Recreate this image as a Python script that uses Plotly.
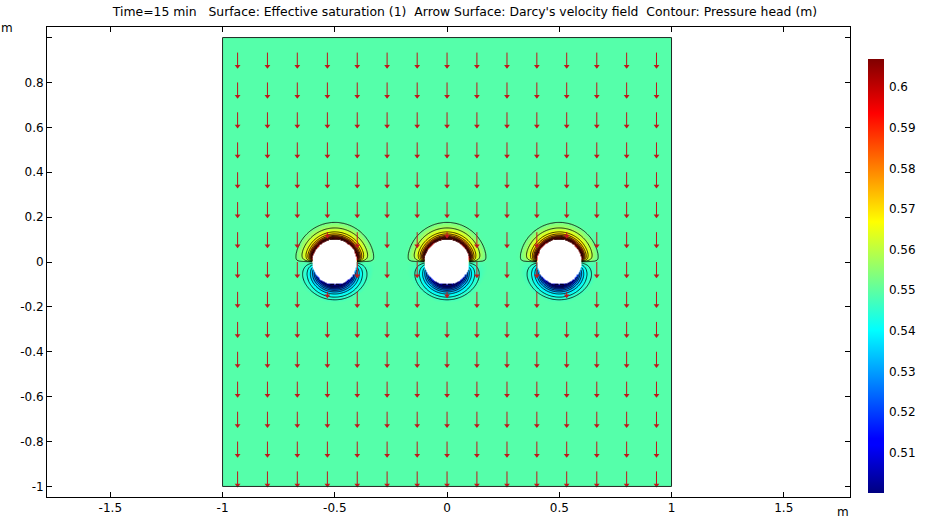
import numpy as np
import plotly.graph_objects as go

# ---------------- values ----------------
title_text = ("Time=15 min\u00a0\u00a0 Surface: Effective saturation (1)\u00a0 "
              "Arrow Surface: Darcy's velocity field\u00a0 Contour: Pressure head (m)")

domain_min, domain_max = -1.0, 1.0          # square soil domain (m)
hole_x = [-0.5, 0.0, 0.5]                    # drain pipe centres (m)
hole_y = [0.0, 0.0, 0.0]
hole_r = 0.1                                 # pipe radius (m)

base_sat = 0.549                             # far-field effective saturation

# saturation profile straight above a pipe (distance from pipe wall, m)
rho_up = [0.0, 0.005, 0.01, 0.015, 0.02, 0.03, 0.04, 0.05, 0.06, 0.07, 0.08, 0.09]
sat_up = [0.607, 0.598, 0.590, 0.582, 0.576, 0.568, 0.563, 0.559, 0.556, 0.553, 0.550, 0.549]
# saturation profile straight below a pipe
rho_dn = [0.0, 0.005, 0.01, 0.015, 0.02, 0.03, 0.04, 0.05, 0.06, 0.07, 0.08]
sat_dn = [0.500, 0.506, 0.512, 0.518, 0.523, 0.531, 0.537, 0.541, 0.544, 0.547, 0.549]

# contour lines (pressure head) expressed at the saturation they follow
contour_sat = [0.504, 0.508, 0.513, 0.518, 0.523, 0.528, 0.533, 0.538, 0.543, 0.5465,
               0.551, 0.5585, 0.566, 0.572, 0.578, 0.584, 0.589, 0.594, 0.598, 0.602]

# arrow grid (Darcy velocity, pointing down)
arrow_x = [-0.933, -0.8, -0.667, -0.533, -0.4, -0.267, -0.133, 0.0,
           0.133, 0.267, 0.4, 0.533, 0.667, 0.8, 0.933]
arrow_y = [-0.933, -0.8, -0.667, -0.533, -0.4, -0.267, -0.133, 0.0,
           0.133, 0.267, 0.4, 0.533, 0.667, 0.8, 0.933]
arrow_u, arrow_v = 0.0, -1.0

x_tickvals = [-1.5, -1, -0.5, 0, 0.5, 1, 1.5]
x_ticktext = ["-1.5", "-1", "-0.5", "0", "0.5", "1", "1.5"]
y_tickvals = [-1, -0.8, -0.6, -0.4, -0.2, 0, 0.2, 0.4, 0.6, 0.8, 1]
y_ticktext = ["-1", "-0.8", "-0.6", "-0.4", "-0.2", "0", "0.2", "0.4", "0.6", "0.8", ""]
cbar_tickvals = [0.51, 0.52, 0.53, 0.54, 0.55, 0.56, 0.57, 0.58, 0.59, 0.6]
c_min, c_max = 0.5001, 0.6069

# ---------------- styling ----------------
W, H = 930, 524
ML, MR, MT, MB = 47, 80, 27, 27
PW, PH = W - ML - MR, H - MT - MB
x_range = [-1.782, 1.795]
y_range = [-1.047, 1.047]
arrow_len = 0.067
arrow_col = "#c0161c"
jet = [[0.0, "rgb(0,0,128)"], [0.11, "rgb(0,0,255)"], [0.125, "rgb(0,0,255)"],
       [0.375, "rgb(0,255,255)"], [0.625, "rgb(255,255,0)"],
       [0.875, "rgb(255,0,0)"], [1.0, "rgb(128,0,0)"]]
font_family = "DejaVu Sans"

# ---------------- build the field near the pipes ----------------
step = 0.004
gx = np.arange(-0.72, 0.72 + step / 2, step)
gy = np.arange(-0.22, 0.22 + step / 2, step)
X, Y = np.meshgrid(gx, gy)
S = np.full(X.shape, base_sat)
inside = np.zeros(X.shape, dtype=bool)
for cx, cy in zip(hole_x, hole_y):
    dx, dy = X - cx, Y - cy
    r = np.hypot(dx, dy)
    inside |= r < hole_r
    rho = np.clip(r - hole_r, 0, None)
    s = dy / np.maximum(r, 1e-9)
    w_up = 1 - np.exp(-np.clip(s, 0, None) / 0.08)
    w_dn = np.clip(-s, 0, None)
    up = (np.interp(rho, rho_up, sat_up) - base_sat) * w_up
    dn = (np.interp(rho, rho_dn, sat_dn) - base_sat) * w_dn
    S += np.where(dy >= 0, up, dn)
S[inside] = np.nan

# full-domain cells: fine band around the pipes, one wide cell on every side
x_edges = np.concatenate([[domain_min], gx - step / 2, [gx[-1] + step / 2, domain_max]])
y_edges = np.concatenate([[domain_min], gy - step / 2, [gy[-1] + step / 2, domain_max]])
Z = np.pad(S, 1, mode="constant", constant_values=base_sat)

lev = sorted(contour_sat)
ext_lev = [c_min - 0.05] + lev + [c_max + 0.05]
ext_idx = [-1] + list(range(len(lev))) + [len(lev)]
C = np.interp(np.nan_to_num(S, nan=base_sat), ext_lev, ext_idx)
C[inside] = np.nan

fig = go.Figure()
fig.add_trace(go.Heatmap(x=x_edges, y=y_edges, z=np.round(Z, 5), coloraxis="coloraxis",
                         hoverinfo="skip"))
# pressure-head contours
fig.add_trace(go.Contour(x=gx, y=gy, z=np.round(C, 4),
                         contours=dict(start=0, end=len(lev) - 1, size=1, coloring="none"),
                         line=dict(color="black", width=0.8), showscale=False,
                         hoverinfo="skip"))

# arrows
lx, ly, hx, hy = [], [], [], []
for ax_ in arrow_x:
    for ay_ in arrow_y:
        speed = 1.0
        skip = False
        for cx, cy in zip(hole_x, hole_y):
            dx, dy = ax_ - cx, ay_ - cy
            rr = np.hypot(dx, dy)
            if rr < hole_r * 0.999:
                skip = True
            elif rr < 0.15 and abs(dy) > abs(dx):
                speed = 0.35
        if skip:
            continue
        L = arrow_len * speed
        tx, ty = ax_ + arrow_u * L, ay_ + arrow_v * L
        lx += [ax_, tx, None]
        ly += [ay_, ty, None]
        hx.append(tx)
        hy.append(ty + 0.006)
fig.add_trace(go.Scatter(x=lx, y=ly, mode="lines", line=dict(color=arrow_col, width=1),
                         hoverinfo="skip", showlegend=False))
fig.add_trace(go.Scatter(x=hx, y=hy, mode="markers",
                         marker=dict(symbol="triangle-down", size=5, color=arrow_col,
                                     line=dict(width=0)),
                         hoverinfo="skip", showlegend=False))

# domain border
fig.add_shape(type="rect", x0=domain_min, x1=domain_max, y0=domain_min, y1=domain_max,
              line=dict(color="#1e2a22", width=1), fillcolor="rgba(0,0,0,0)")

axis_common = dict(ticks="inside", ticklen=5, tickcolor="black", mirror="ticks",
                   showline=True, linecolor="black", linewidth=1, showgrid=False,
                   zeroline=False, automargin=False,
                   tickfont=dict(size=12, color="black"))
fig.update_layout(
    template="none",
    width=W, height=H,
    margin=dict(l=ML, r=MR, t=MT, b=MB, pad=0, autoexpand=False),
    paper_bgcolor="white", plot_bgcolor="white",
    font=dict(family=font_family, size=12, color="black"),
    showlegend=False,
    title=dict(text=title_text, x=0.5, xref="container", xanchor="center",
               y=1 - 12 / H, yref="container", yanchor="middle",
               font=dict(size=12.4, color="black", family=font_family)),
    xaxis=dict(range=x_range, tickvals=x_tickvals, ticktext=x_ticktext, **axis_common),
    yaxis=dict(range=y_range, tickvals=y_tickvals, ticktext=y_ticktext, **axis_common),
    coloraxis=dict(cmin=c_min, cmax=c_max, colorscale=jet,
                   colorbar=dict(thickness=16, thicknessmode="pixels",
                                 len=434, lenmode="pixels",
                                 x=1 + 18 / PW, xanchor="left", xpad=0,
                                 y=(H - MB - 276) / PH, yanchor="middle", ypad=0,
                                 tickvals=cbar_tickvals, ticks="outside", ticklen=3,
                                 tickcolor="rgba(0,0,0,0)", outlinewidth=0,
                                 tickfont=dict(size=12, color="black"))),
)
# unit labels
fig.add_annotation(text="m", xref="paper", yref="paper", x=(7 - ML) / PW, y=(H - MB - 28) / PH,
                   showarrow=False, font=dict(size=12), xanchor="center", yanchor="middle")
fig.add_annotation(text="m", xref="paper", yref="paper", x=(843 - ML) / PW, y=(H - MB - 512) / PH,
                   showarrow=False, font=dict(size=12), xanchor="center", yanchor="middle")

fig.write_html("out.html", config={"displayModeBar": False},
               post_script="document.body.style.margin='0';")
